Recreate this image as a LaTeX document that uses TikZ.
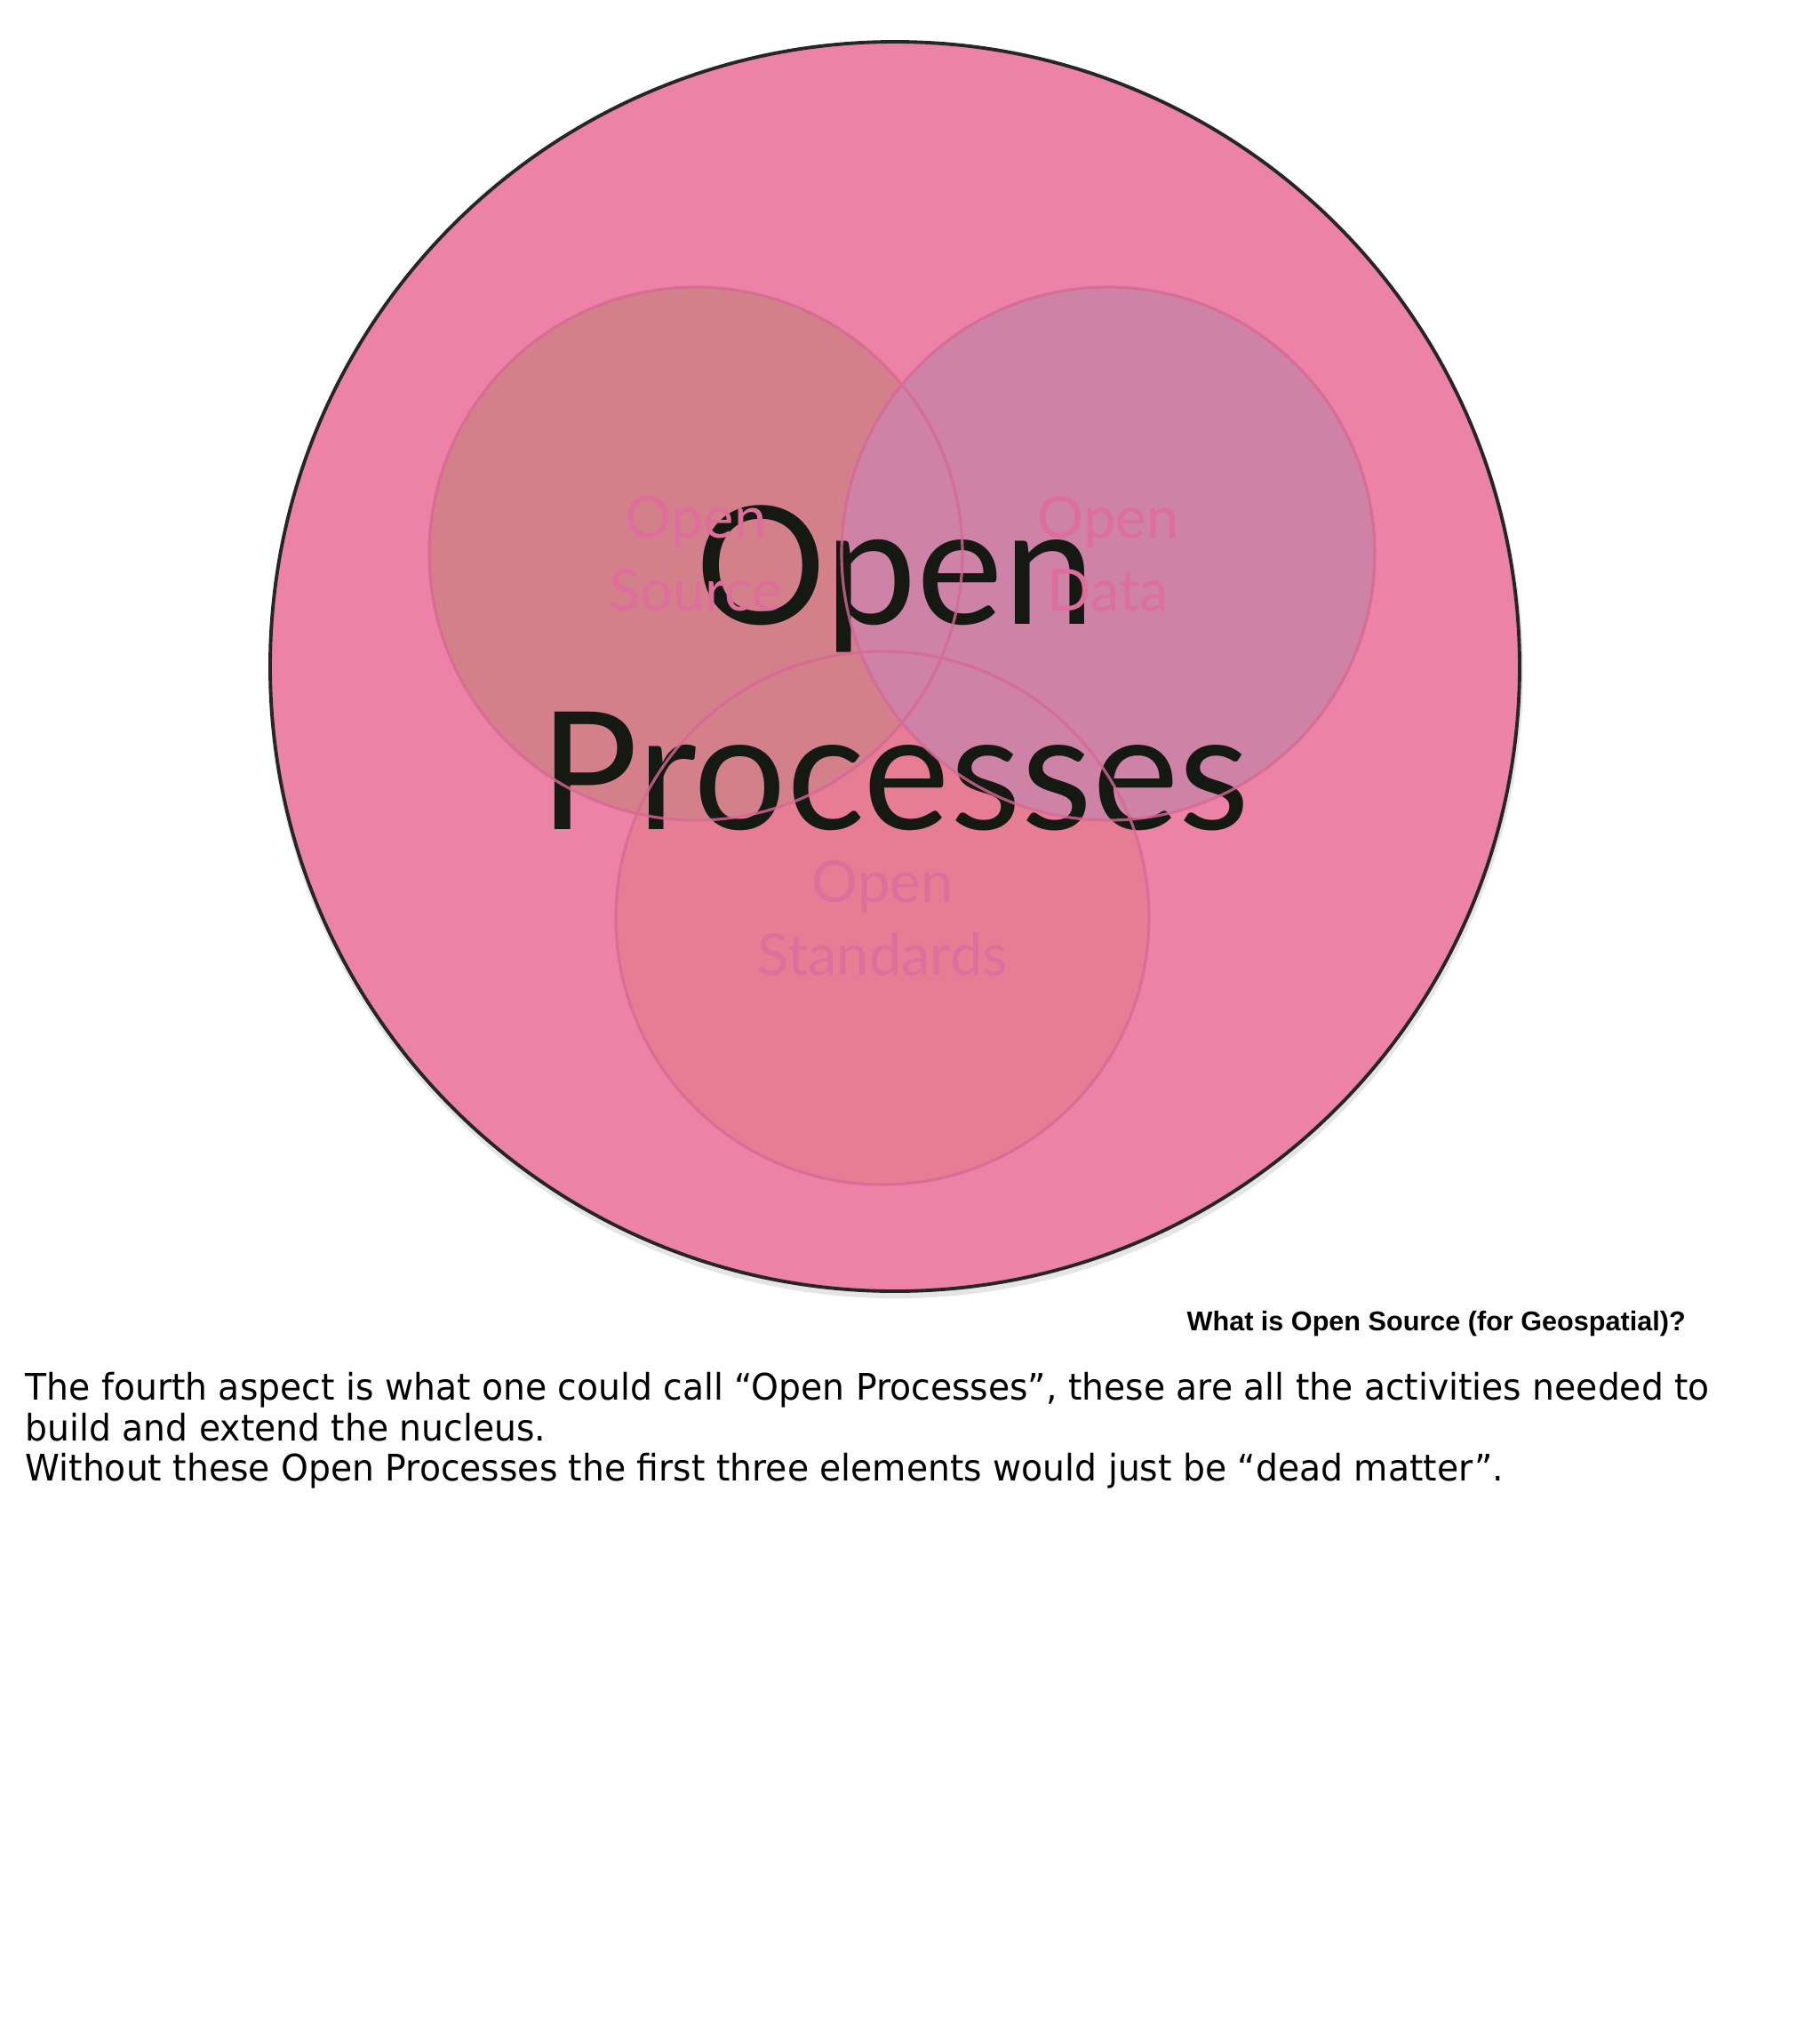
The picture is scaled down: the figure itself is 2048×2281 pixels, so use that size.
\documentclass[tikz,border=0pt]{standalone}
\usepackage{fontspec}
\newfontfamily\slidefont{Lato}
\newfontfamily\notefont[FakeStretch=0.955]{DejaVu Sans}
\newfontfamily\capfont{Liberation Sans}
\definecolor{bigpink}{RGB}{236,130,165}
\definecolor{srcpink}{RGB}{212,128,139}
\definecolor{datpink}{RGB}{206,130,166}
\definecolor{stdpink}{RGB}{230,125,148}
\definecolor{vennline}{RGB}{216,104,150}
\definecolor{vennlabel}{RGB}{222,110,156}
\definecolor{textdark}{RGB}{20,25,18}
\begin{document}
\begin{tikzpicture}[x=0.01cm, y=-0.01cm, line join=round, line cap=round,
	venn/.style={circle, minimum size=6cm, inner sep=0pt},
	vlabel/.style={text=vennlabel, align=center, font=\slidefont\fontsize{18.5}{23.3}\selectfont}]
	\def\R{703} \def\r{300}
	\useasboundingbox (0,0) rectangle (2048,2281);
	\fill[white] (0,0) rectangle (2048,2281);
	% outer circle
	\fill[black, opacity=0.1] (1008,755) circle (706);
	\draw[fill=bigpink, draw=black!85, line width=1.1pt] (1007,750) circle (\R);
	% three inner circles
	\node[venn, fill=stdpink] (std) at (993,1033) {};
	\node[venn, fill=srcpink] (src) at (783,623) {};
	\node[venn, fill=datpink] (dat) at (1247,623) {};
	\node[align=center, text=textdark, font=\slidefont\fontsize{52.5}{65.5}\selectfont] (procs) at (1007,752) {Open\\Processes};
	\draw[vennline, line width=0.9pt, opacity=0.8] (std.center) circle (\r) (src.center) circle (\r) (dat.center) circle (\r);
	\node[vlabel] (srclbl) at (src.center) {Open\\Source};
	\node[vlabel] (datlbl) at (dat.center) {Open\\Data};
	\node[vlabel] (stdlbl) at (std.center) {Open\\Standards};
	% slide footer and notes
	\node[anchor=base west, inner sep=0pt, font=\capfont\bfseries\fontsize{8.7}{10}\selectfont] (cap) at (1335,1497) {What is Open Source (for Geospatial)?};
	\node[anchor=north west, inner sep=0pt, align=left, font=\notefont\fontsize{11.7}{12.9}\selectfont] (notes) at (28,1544) {The fourth aspect is what one could call “Open Processes”, these are all the activities needed to\\build and extend the nucleus.\\Without these Open Processes the first three elements would just be “dead matter”.};
\end{tikzpicture}
\end{document}
